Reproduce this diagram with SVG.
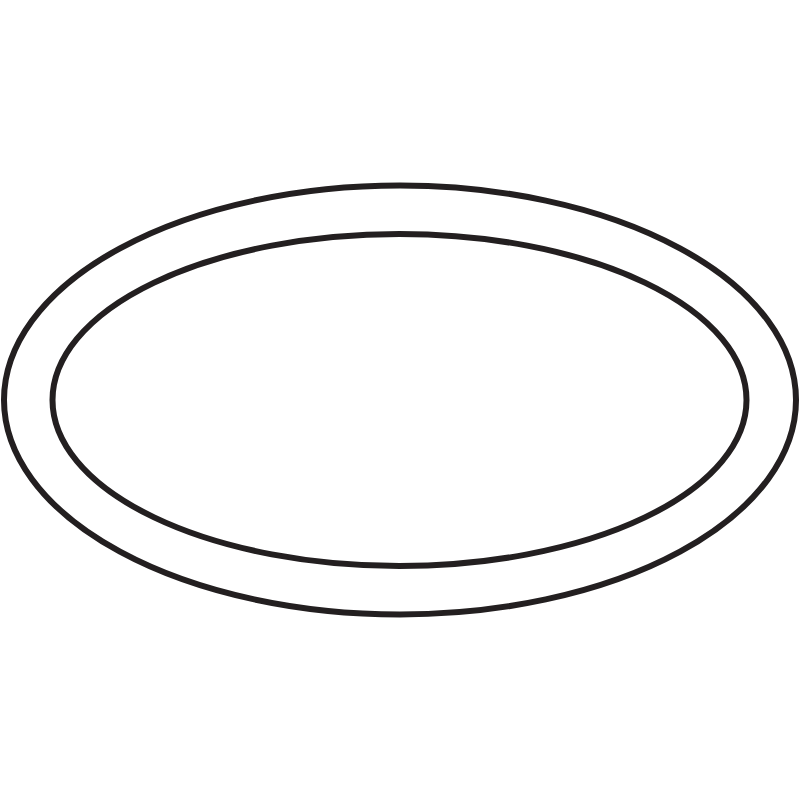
<svg xmlns="http://www.w3.org/2000/svg" width="800" height="800" viewBox="0 0 800 800">
<style>.ring{fill:none;stroke:#231f20;stroke-width:6}</style>
<rect width="800" height="800" fill="#fff"/>
<g id="outer"><ellipse class="ring" cx="400" cy="400" rx="396" ry="214.5"/></g>
<g id="inner"><ellipse class="ring" cx="399.5" cy="400" rx="347" ry="166"/></g>
</svg>
